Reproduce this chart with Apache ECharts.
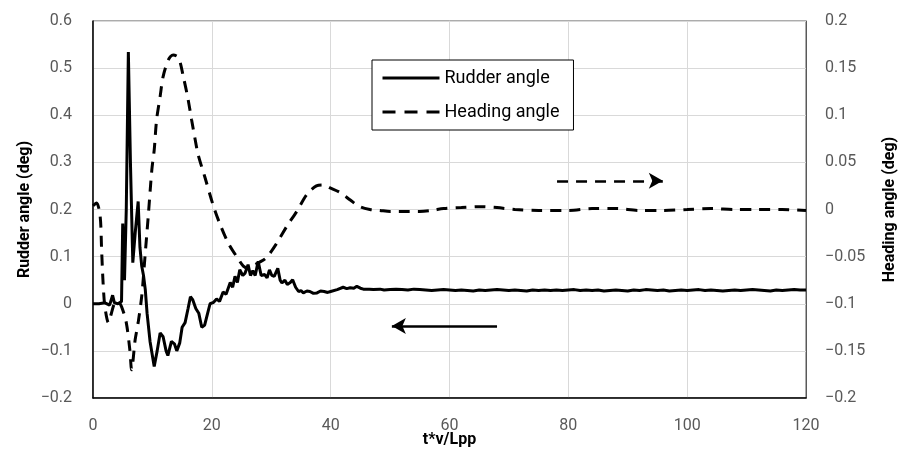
<!DOCTYPE html>
<html>
<head>
<meta charset="utf-8">
<script src="https://cdn.jsdelivr.net/npm/echarts@6/dist/echarts.min.js"></script>
<style>html,body{margin:0;padding:0;background:#fff}#c{width:902px;height:452px}</style>
</head>
<body>
<div id="c"></div>
<script>
// Rudder angle (left axis, deg) — transient part
const rudderT = [0,1,2,2.8,3.3,3.6,4.2,4.8,5.0,5.3,5.6,5.95,6.3,6.7,7.1,7.6,7.9,8.2,8.5,8.8,9.1,9.6,10.3,10.8,11.3,11.8,12.3,12.6,13.2,13.7,14.1,14.6,15.0,15.5,16.0,16.4,16.8,17.3,17.8,18.3,18.8,19.3,19.7,20.3,20.8,21.3,21.9,22.4,23.1,23.5,23.9,24.3,24.7,25.2,25.6,26.1,26.5,26.9,27.3,27.8,28.3,28.9,29.3,29.7,30.1,30.5,31.1,31.5,31.8,32.3,32.7,33.2,33.6,34.1,34.6,35.0,35.4,36.0,36.5,37.1,37.7,38.3,38.9,39.5,40.0,41.1,42.1,42.7,43.3,43.9,44.4,45.0,45.5,46.5,47.2,48.3];
const rudderV = [0,0,0.002,-0.003,0.018,0.002,0.0,0.005,0.17,0.05,0.2,0.534,0.3,0.087,0.15,0.217,0.12,0.08,0.06,0.03,-0.02,-0.08,-0.133,-0.1,-0.062,-0.07,-0.1,-0.11,-0.08,-0.085,-0.1,-0.083,-0.05,-0.04,-0.01,0.015,0.008,-0.01,-0.02,-0.05,-0.045,-0.02,0.0,0.003,0.01,0.005,0.025,0.02,0.045,0.035,0.058,0.045,0.072,0.06,0.065,0.083,0.06,0.07,0.06,0.09,0.06,0.062,0.055,0.072,0.06,0.058,0.075,0.05,0.044,0.05,0.041,0.045,0.051,0.035,0.026,0.028,0.023,0.027,0.026,0.022,0.023,0.027,0.026,0.024,0.026,0.03,0.035,0.032,0.034,0.033,0.037,0.033,0.031,0.031,0.03,0.031];
// Rudder angle — steady part, t = 49, 50, ..., 120
const rudderTailStart = 49;
const rudderTailV = [
  0.029,0.030,0.031,0.030,0.029,0.031,0.030,0.029,0.028,0.029,0.030,0.029,
  0.028,0.029,0.028,0.027,0.029,0.028,0.029,0.030,0.029,0.028,0.029,0.028,
  0.027,0.029,0.028,0.029,0.028,0.029,0.028,0.029,0.030,0.028,0.029,0.028,
  0.029,0.027,0.028,0.029,0.028,0.027,0.029,0.028,0.030,0.029,0.028,0.029,
  0.027,0.028,0.029,0.028,0.029,0.030,0.028,0.029,0.028,0.027,0.028,0.029,
  0.028,0.029,0.030,0.029,0.028,0.027,0.029,0.028,0.029,0.030,0.029,0.029
];
// Heading angle (right axis, deg)
const headingT = [0,0.6,1.2,1.45,1.7,2.0,2.6,3.1,3.6,4.2,4.8,5.6,6.2,6.5,7.1,7.6,8.2,8.75,9.3,9.9,10.3,10.7,11.3,11.8,12.7,13.5,14.4,15.2,16.0,16.6,17.2,17.7,18.8,20.2,21.4,22.8,24.5,25.3,26.0,26.8,28.0,29.2,30.9,32.6,34.3,36.0,37.6,38.8,39.9,41.6,43.3,44.9,46.6,48.3,50,52,55,57,59,62,65,68,71,75,80,84,88,92,96,100,104,108,112,116,120];
const headingV = [0.004,0.007,-0.007,-0.043,-0.078,-0.103,-0.12,-0.11,-0.1,-0.098,-0.103,-0.12,-0.149,-0.17,-0.138,-0.12,-0.092,-0.05,-0.007,0.042,0.063,0.095,0.12,0.141,0.159,0.164,0.161,0.141,0.117,0.095,0.074,0.058,0.035,0.005,-0.016,-0.036,-0.053,-0.06,-0.062,-0.06,-0.056,-0.051,-0.036,-0.018,-0.002,0.016,0.025,0.026,0.023,0.018,0.01,0.003,0.0,-0.001,-0.002,-0.002,-0.002,-0.001,0.001,0.002,0.003,0.002,0.0,-0.001,-0.001,0.001,0.001,-0.001,-0.001,0.0,0.001,0.0,0.0,0.0,-0.001];
const leftTicks = {min:-0.2, max:0.6, interval:0.1};
const rightTicks = {min:-0.2, max:0.2, interval:0.05};
const xTicks = {min:0, max:120, interval:20};

const fmt = v => { const s = String(parseFloat(v.toFixed(3))); return s.replace('-', '\u2212'); };
const zip = (a,b) => a.map((t,i)=>[t,b[i]]);
const rudderData = zip(rudderT, rudderV).concat(rudderTailV.map((v,i)=>[rudderTailStart+i, v]));
const labelStyle = {color:'#595959', fontSize:16, fontFamily:'Roboto'};
const nameStyle = {fontWeight:'bold', fontSize:16, color:'#000', fontFamily:'Roboto'};

const chart = echarts.init(document.getElementById('c'), null, {renderer:'canvas'});
chart.setOption({
  animation:false,
  backgroundColor:'#fff',
  grid:{left:93, right:96, top:21, bottom:54, show:true, borderColor:'#595959', borderWidth:1, outerBoundsMode:'none', containLabel:false},
  legend:{
    left:372, top:60, orient:'vertical', padding:[9,14,9,9], itemGap:16,
    itemWidth:57, itemHeight:14, borderColor:'#000', borderWidth:1, backgroundColor:'#fff',
    textStyle:{fontSize:18, color:'#000', fontFamily:'Roboto'},
    itemStyle:{opacity:0},
    lineStyle:{width:3},
    data:[
      {name:'Rudder angle'},
      {name:'Heading angle', lineStyle:{type:[13,9], width:3}}
    ]
  },
  xAxis:{type:'value', min:xTicks.min, max:xTicks.max, interval:xTicks.interval,
    name:'t*v/Lpp', nameLocation:'middle', nameGap:34, nameMoveOverlap:false, nameTextStyle:nameStyle,
    axisLine:{onZero:false, lineStyle:{color:'#000', width:1.5}}, axisTick:{show:false},
    axisLabel:Object.assign({margin:20}, labelStyle),
    splitLine:{lineStyle:{color:'#d9d9d9', width:1}}},
  yAxis:[
    {type:'value', min:leftTicks.min, max:leftTicks.max, interval:leftTicks.interval,
     name:'Rudder angle (deg)', nameLocation:'middle', nameGap:60, nameMoveOverlap:false, nameRotate:90, nameTextStyle:nameStyle,
     axisLine:{show:true, onZero:false, lineStyle:{color:'#000', width:1.5}}, axisTick:{show:false},
     axisLabel:Object.assign({margin:21, formatter:fmt}, labelStyle),
     splitLine:{lineStyle:{color:'#d9d9d9', width:1}}},
    {type:'value', min:rightTicks.min, max:rightTicks.max, interval:rightTicks.interval,
     position:'right',
     name:'Heading angle (deg)', nameLocation:'middle', nameGap:76, nameMoveOverlap:false, nameRotate:90, nameTextStyle:nameStyle,
     axisLine:{show:true, onZero:false, lineStyle:{color:'#595959', width:1}}, axisTick:{show:false},
     axisLabel:Object.assign({margin:19, formatter:fmt}, labelStyle),
     splitLine:{show:false}}
  ],
  series:[
    {name:'Rudder angle', type:'line', yAxisIndex:0, data:rudderData,
     symbol:'none', lineStyle:{color:'#000', width:3}, itemStyle:{color:'#000'}, z:3,
     markLine:{silent:true, symbol:['none','arrow'], symbolSize:[12,14], label:{show:false},
       lineStyle:{color:'#000', width:2.5, type:'solid'},
       data:[[{coord:[68,-0.047]},{coord:[50.3,-0.047]}]]}},
    {name:'Heading angle', type:'line', yAxisIndex:1, data:zip(headingT,headingV),
     symbol:'none', smooth:0.3, lineStyle:{color:'#000', width:3, type:[11,8]}, itemStyle:{color:'#000'}, z:2,
     markLine:{silent:true, symbol:['none','arrow'], symbolSize:[12,14], label:{show:false},
       lineStyle:{color:'#000', width:2.5, type:[11,8]},
       data:[[{coord:[78.1,0.0305]},{coord:[95.9,0.0305]}]]}}
  ]
});
</script>
</body>
</html>
